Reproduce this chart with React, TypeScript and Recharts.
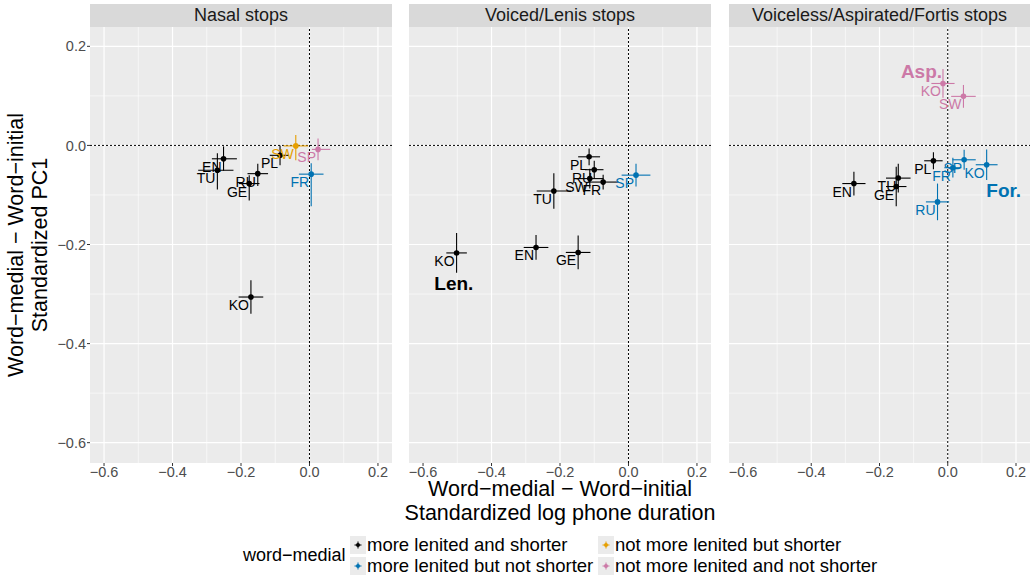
import React from "react";
import {
  ScatterChart,
  Scatter,
  XAxis,
  YAxis,
  CartesianGrid,
  ReferenceLine,
  ErrorBar,
} from "recharts";

const FONT = '"Liberation Sans", Arial, Helvetica, sans-serif';

const CATEGORIES = [
  "more lenited and shorter",
  "more lenited but not shorter",
  "not more lenited but shorter",
  "not more lenited and not shorter",
];
const CATEGORY_COLORS = ["#000000", "#0072B2", "#E69F00", "#CC79A7"];
// legend order, column-major like ggplot
const LEGEND_ORDER = [0, 1, 2, 3];

const PANEL_TITLES = ["Nasal stops", "Voiced/Lenis stops", "Voiceless/Aspirated/Fortis stops"];

const X_DOMAIN = [-0.641, 0.241];
const Y_DOMAIN = [-0.641, 0.239];
const MAJOR_TICKS = [-0.6, -0.4, -0.2, 0, 0.2];
const MINOR_TICKS = [-0.5, -0.3, -0.1, 0.1];

/* ---- Nasal stops ---- */
const NASAL_LANGS = ["EN", "TU", "PL", "RU", "GE", "KO", "SW", "SP", "FR"];
const NASAL_GROUP = [0, 0, 0, 0, 0, 0, 2, 3, 1];
const NASAL_DUR = [-0.251, -0.269, -0.086, -0.151, -0.176, -0.171, -0.04, 0.025, 0.005];
const NASAL_PC1 = [-0.027, -0.05, -0.02, -0.057, -0.077, -0.306, -0.001, -0.008, -0.058];
const NASAL_DUR_ERR = [[0.034, 0.039], [0.056, 0.047], [0.03, 0.025], [0.03, 0.03], [0.03, 0.03], [0.036, 0.036], [0.036, 0.036], [0.018, 0.036], [0.036, 0.036]];
const NASAL_PC1_ERR = [[0.024, 0.025], [0.039, 0.034], [0.02, 0.02], [0.025, 0.02], [0.034, 0.017], [0.034, 0.034], [0.029, 0.022], [0.022, 0.022], [0.065, 0.022]];

/* ---- Voiced/Lenis stops ---- */
const LENIS_LANGS = ["PL", "RU", "SW", "FR", "TU", "SP", "KO", "EN", "GE"];
const LENIS_GROUP = [0, 0, 0, 0, 0, 1, 0, 0, 0];
const LENIS_DUR = [-0.115, -0.1, -0.113, -0.074, -0.218, 0.022, -0.502, -0.27, -0.147];
const LENIS_PC1 = [-0.023, -0.049, -0.067, -0.074, -0.092, -0.06, -0.217, -0.206, -0.216];
const LENIS_DUR_ERR = [[0.032, 0.032], [0.027, 0.027], [0.04, 0.04], [0.045, 0.045], [0.05, 0.05], [0.042, 0.042], [0.03, 0.03], [0.036, 0.036], [0.036, 0.036]];
const LENIS_PC1_ERR = [[0.017, 0.017], [0.018, 0.018], [0.02, 0.02], [0.015, 0.015], [0.036, 0.036], [0.023, 0.023], [0.04, 0.04], [0.025, 0.025], [0.034, 0.034]];

/* ---- Voiceless/Aspirated/Fortis stops ---- */
const FORTIS_LANGS = ["KO", "SW", "PL", "SP", "FR", "KO", "TU", "GE", "EN", "RU"];
const FORTIS_GROUP = [3, 3, 0, 1, 1, 1, 0, 0, 0, 1];
const FORTIS_DUR = [-0.014, 0.046, -0.042, 0.048, 0.015, 0.114, -0.145, -0.151, -0.275, -0.03];
const FORTIS_PC1 = [0.125, 0.099, -0.031, -0.029, -0.045, -0.039, -0.066, -0.083, -0.077, -0.114];
const FORTIS_DUR_ERR = [[0.034, 0.034], [0.036, 0.036], [0.027, 0.027], [0.034, 0.034], [0.025, 0.025], [0.032, 0.032], [0.036, 0.036], [0.03, 0.03], [0.034, 0.034], [0.034, 0.034]];
const FORTIS_PC1_ERR = [[0.029, 0.029], [0.023, 0.023], [0.017, 0.017], [0.02, 0.02], [0.02, 0.02], [0.031, 0.031], [0.029, 0.029], [0.04, 0.04], [0.024, 0.024], [0.037, 0.037]];

/* ---- bold annotations ---- */
const ANNOT_TEXT = ["Len.", "Asp.", "For."];
const ANNOT_PANEL = [1, 2, 2];
const ANNOT_GROUP = [0, 3, 1];
const ANNOT_X = [-0.51, -0.077, 0.164];
const ANNOT_Y = [-0.278, 0.15, -0.092];

function buildRows(langs: string[], group: number[], dur: number[], pc1: number[], durErr: number[][], pc1Err: number[][]) {
  return langs.map((lang, i) => ({
    lang,
    group: group[i],
    x: dur[i],
    y: pc1[i],
    ex: durErr[i],
    ey: pc1Err[i],
  }));
}

const PANEL_ROWS = [
  buildRows(NASAL_LANGS, NASAL_GROUP, NASAL_DUR, NASAL_PC1, NASAL_DUR_ERR, NASAL_PC1_ERR),
  buildRows(LENIS_LANGS, LENIS_GROUP, LENIS_DUR, LENIS_PC1, LENIS_DUR_ERR, LENIS_PC1_ERR),
  buildRows(FORTIS_LANGS, FORTIS_GROUP, FORTIS_DUR, FORTIS_PC1, FORTIS_DUR_ERR, FORTIS_PC1_ERR),
];

const fmt = (v: number) => v.toFixed(1).replace("-", "\u2212");

function PointShape(props: any) {
  const { cx, cy, payload } = props;
  if (cx == null || cy == null) return null;
  const color = CATEGORY_COLORS[payload.group];
  return (
    <g>
      <circle cx={cx} cy={cy} r={2.8} fill={color} />
      <text x={cx - 2} y={cy + 8} textAnchor="end" dominantBaseline="central" fontSize={14} fill={color} fontFamily={FONT}>
        {payload.lang}
      </text>
    </g>
  );
}

function AnnotShape(props: any) {
  const { cx, cy, payload } = props;
  if (cx == null || cy == null) return null;
  return (
    <text x={cx} y={cy} textAnchor="middle" dominantBaseline="central" fontSize={19} fontWeight="bold" fill={CATEGORY_COLORS[payload.group]} fontFamily={FONT}>
      {payload.text}
    </text>
  );
}

// layout of the three facets
const PANEL_LEFT = [0, 409, 729];
const PANEL_WIDTH = [392, 302, 301];
const Y_AXIS_W = 90;
const PLOT_TOP = 27;
const X_AXIS_H = 27;
const CHART_H = 490;

function Panel({ idx }: { idx: number }) {
  const rows = PANEL_ROWS[idx];
  const annots = ANNOT_TEXT.map((text, i) => ({ text, group: ANNOT_GROUP[i], x: ANNOT_X[i], y: ANNOT_Y[i], panel: ANNOT_PANEL[i] })).filter((a) => a.panel === idx);
  const showY = idx === 0;
  const plotLeft = PANEL_LEFT[idx] + (showY ? Y_AXIS_W : 0);
  return (
    <>
      <div
        style={{
          position: "absolute",
          left: plotLeft,
          top: 4,
          width: PANEL_WIDTH[idx] - (showY ? Y_AXIS_W : 0),
          height: PLOT_TOP - 4,
          background: "#d9d9d9",
          color: "#1a1a1a",
          fontSize: 18,
          lineHeight: `${PLOT_TOP - 4}px`,
          textAlign: "center",
          whiteSpace: "nowrap",
        }}
      >
        {PANEL_TITLES[idx]}
      </div>
      <div style={{ position: "absolute", left: PANEL_LEFT[idx], top: 0 }}>
        <ScatterChart width={PANEL_WIDTH[idx]} height={CHART_H} margin={{ top: PLOT_TOP, right: 0, bottom: 0, left: 0 }}>
          <CartesianGrid fill="#ebebeb" fillOpacity={1} stroke="#ffffff" strokeWidth={0.6} verticalValues={MINOR_TICKS} horizontalValues={MINOR_TICKS} />
          <CartesianGrid stroke="#ffffff" strokeWidth={1.2} verticalValues={MAJOR_TICKS} horizontalValues={MAJOR_TICKS} />
          <XAxis
            type="number"
            dataKey="x"
            domain={X_DOMAIN}
            ticks={MAJOR_TICKS}
            allowDataOverflow
            height={X_AXIS_H}
            tickFormatter={fmt}
            tick={{ fontSize: 14.5, fill: "#4d4d4d", fontFamily: FONT }}
            tickSize={3}
            tickMargin={1}
            tickLine={{ stroke: "#333333" }}
            axisLine={false}
          />
          <YAxis
            type="number"
            dataKey="y"
            domain={Y_DOMAIN}
            ticks={MAJOR_TICKS}
            allowDataOverflow
            hide={!showY}
            width={Y_AXIS_W}
            tickFormatter={fmt}
            tick={{ fontSize: 14.5, fill: "#4d4d4d", fontFamily: FONT }}
            tickSize={3}
            tickMargin={1}
            tickLine={{ stroke: "#333333" }}
            axisLine={false}
          />
          <ReferenceLine x={0} stroke="#000" strokeWidth={1} strokeDasharray="2 2" />
          <ReferenceLine y={0} stroke="#000" strokeWidth={1} strokeDasharray="2 2" />
          {CATEGORIES.map((cat, g) => (
            <Scatter
              key={cat}
              name={cat}
              data={rows.filter((r) => r.group === g)}
              shape={PointShape}
              isAnimationActive={false}
            >
              <ErrorBar dataKey="ex" direction="x" width={0} stroke={CATEGORY_COLORS[g]} strokeWidth={1.1} />
              <ErrorBar dataKey="ey" direction="y" width={0} stroke={CATEGORY_COLORS[g]} strokeWidth={1.1} />
            </Scatter>
          ))}
          <Scatter data={annots} shape={AnnotShape} isAnimationActive={false} />
        </ScatterChart>
      </div>
    </>
  );
}

function LegendKey({ color }: { color: string }) {
  return (
    <svg width={16} height={18} style={{ display: "block" }}>
      <rect x={0} y={0} width={16} height={18} fill="#ebebeb" />
      <line x1={4.5} x2={11.5} y1={9} y2={9} stroke={color} strokeWidth={1} />
      <line x1={8} x2={8} y1={5.5} y2={12.5} stroke={color} strokeWidth={1} />
      <circle cx={8} cy={9} r={2} fill={color} />
    </svg>
  );
}

const LEGEND_COL_X = [350, 598];
const LEGEND_ROW_Y = [536, 557];

export default function App() {
  return (
    <div style={{ position: "relative", width: 1030, height: 576, background: "#fff", fontFamily: FONT, overflow: "hidden" }}>
      <style>{"body{margin:0}"}</style>
      {[0, 1, 2].map((i) => (
        <Panel key={i} idx={i} />
      ))}

      {/* y axis title */}
      <div
        style={{
          position: "absolute",
          left: 30 - 220,
          top: 245 - 25,
          width: 440,
          height: 50,
          transform: "rotate(-90deg)",
          textAlign: "center",
          fontSize: 21.5,
          lineHeight: "23.5px",
          color: "#000",
        }}
      >
        <div>Word−medial − Word−initial</div>
        <div>Standardized PC1</div>
      </div>

      {/* x axis title */}
      <div
        style={{
          position: "absolute",
          left: 260,
          top: 478,
          width: 600,
          textAlign: "center",
          fontSize: 21.5,
          lineHeight: "23.5px",
          color: "#000",
        }}
      >
        <div>Word−medial − Word−initial</div>
        <div>Standardized log phone duration</div>
      </div>

      {/* legend */}
      <div style={{ position: "absolute", left: 243, top: 545, fontSize: 18, lineHeight: "20px", color: "#000" }}>word−medial</div>
      {LEGEND_ORDER.map((g, i) => (
        <div
          key={g}
          style={{
            position: "absolute",
            left: LEGEND_COL_X[Math.floor(i / 2)],
            top: LEGEND_ROW_Y[i % 2],
            display: "flex",
            alignItems: "center",
            fontSize: 18.5,
            lineHeight: "18px",
            whiteSpace: "nowrap",
          }}
        >
          <LegendKey color={CATEGORY_COLORS[g]} />
          <span style={{ marginLeft: 1 }}>{CATEGORIES[g]}</span>
        </div>
      ))}
    </div>
  );
}
